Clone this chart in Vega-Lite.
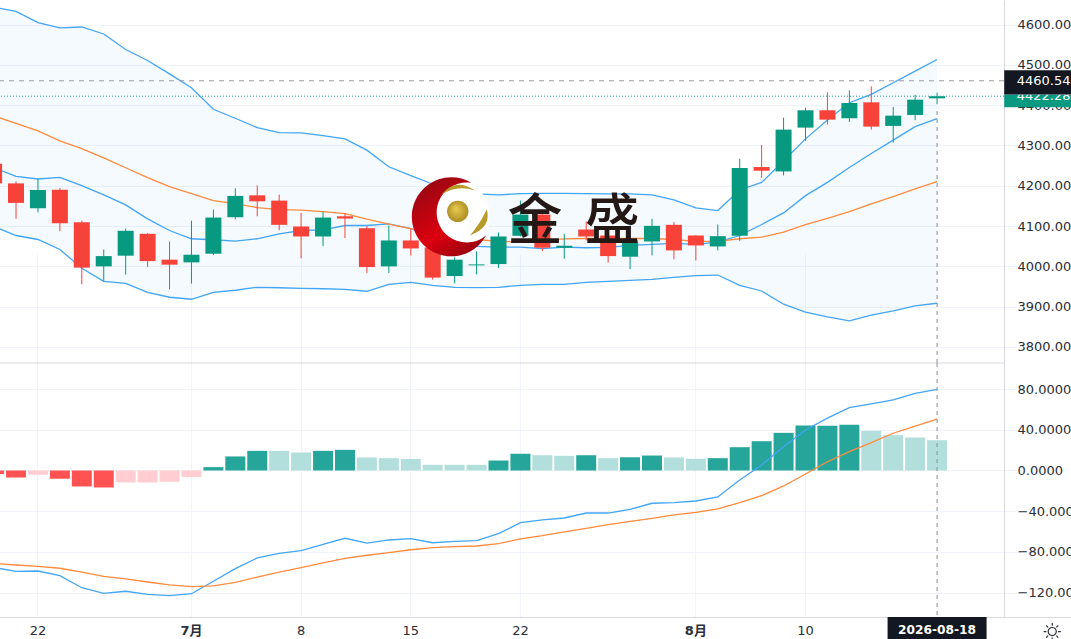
{
  "$schema": "https://vega.github.io/schema/vega-lite/v6.json",
  "description": "Candles with bands and MACD, trading days on x",
  "autosize": "none",
  "padding": {"left": 0, "top": 0, "right": 67, "bottom": 22},
  "width": 1004,
  "height": 617,
  "background": "white",
  "config": {"view": {"stroke": null}},
  "data": {"values": [
    {"date":"2026-06-18","open":4254.6,"close":4205.9,"high":4262,"low":4202.7,"upper":4642.7,"inner":4244.7,"mid":4373.3,"lower":4098.9,"hist":-3.6,"state":"down","dif":-95.3,"dea":-91.4},
    {"date":"2026-06-19","open":4205.9,"close":4157.5,"high":4210.9,"low":4117.9,"upper":4632.8,"inner":4223.2,"mid":4354.7,"lower":4076.6,"hist":-6.9,"state":"down","dif":-99.1,"dea":-92.9},
    {"date":"2026-06-22","open":4144.1,"close":4189.6,"high":4216.8,"low":4134.2,"upper":4604.9,"inner":4216.8,"mid":4336.2,"lower":4066.7,"hist":-4.3,"state":"downweak","dif":-98.8,"dea":-94.2},
    {"date":"2026-06-23","open":4190.3,"close":4107,"high":4194.5,"low":4087.3,"upper":4591.6,"inner":4220.7,"mid":4311.5,"lower":4042,"hist":-8.2,"state":"down","dif":-103.4,"dea":-96.1},
    {"date":"2026-06-24","open":4109.5,"close":3996.8,"high":4113.7,"low":3955.5,"upper":4594,"inner":4200.2,"mid":4292.4,"lower":3995.1,"hist":-15.7,"state":"down","dif":-115.2,"dea":-99.8},
    {"date":"2026-06-25","open":4000,"close":4025.5,"high":4042,"low":3963.7,"upper":4576.7,"inner":4177.2,"mid":4269.4,"lower":3962.9,"hist":-16.7,"state":"down","dif":-120.7,"dea":-104},
    {"date":"2026-06-26","open":4026.5,"close":4088.3,"high":4093.9,"low":3979.5,"upper":4538.2,"inner":4152.5,"mid":4244.7,"lower":3958,"hist":-11.8,"state":"downweak","dif":-118.7,"dea":-106.6},
    {"date":"2026-06-29","open":4080.8,"close":4013.1,"high":4082.3,"low":3998.3,"upper":4511,"inner":4117.9,"mid":4220,"lower":3935.7,"hist":-11.8,"state":"downweak","dif":-121.7,"dea":-109.6},
    {"date":"2026-06-30","open":4016.6,"close":4004.2,"high":4061.8,"low":3943.1,"upper":4477.8,"inner":4089,"mid":4197.8,"lower":3923.4,"hist":-11.1,"state":"downweak","dif":-123,"dea":-112.5},
    {"date":"2026-07-01","open":4009.9,"close":4028.9,"high":4113.7,"low":3957.2,"upper":4443.2,"inner":4068.5,"mid":4180.5,"lower":3918.4,"hist":-6.5,"state":"downweak","dif":-121.1,"dea":-114.2},
    {"date":"2026-07-02","open":4031.4,"close":4121.1,"high":4140.9,"low":4027.9,"upper":4389.8,"inner":4066,"mid":4163.2,"lower":3935.7,"hist":3.3,"state":"up","dif":-108.9,"dea":-113.5},
    {"date":"2026-07-03","open":4121.9,"close":4174.8,"high":4193.6,"low":4116.9,"upper":4367.6,"inner":4062.5,"mid":4155.7,"lower":3940.7,"hist":13.8,"state":"up","dif":-96.5,"dea":-109.9},
    {"date":"2026-07-06","open":4176.3,"close":4161.4,"high":4201,"low":4124.3,"upper":4344.3,"inner":4068.5,"mid":4145.8,"lower":3948.1,"hist":19.3,"state":"up","dif":-86,"dea":-104.7},
    {"date":"2026-07-07","open":4163.2,"close":4103.1,"high":4178,"low":4089.7,"upper":4332,"inner":4080.8,"mid":4140.9,"lower":3946.9,"hist":19.3,"state":"upweak","dif":-81.4,"dea":-100},
    {"date":"2026-07-08","open":4098.9,"close":4074.2,"high":4132.7,"low":4019.8,"upper":4331.2,"inner":4089,"mid":4139.7,"lower":3945.6,"hist":17.7,"state":"upweak","dif":-78.8,"dea":-95.5},
    {"date":"2026-07-09","open":4074.2,"close":4121.1,"high":4136,"low":4050.2,"upper":4324.6,"inner":4090.7,"mid":4136,"lower":3944.4,"hist":19.3,"state":"up","dif":-72.5,"dea":-90.9},
    {"date":"2026-07-10","open":4124.3,"close":4118.7,"high":4131.8,"low":4070,"upper":4316.4,"inner":4101.4,"mid":4131,"lower":3943.1,"hist":20.3,"state":"up","dif":-66.6,"dea":-86.3},
    {"date":"2026-07-13","open":4094.7,"close":3998.3,"high":4099.6,"low":3983.4,"upper":4288.5,"inner":4101.4,"mid":4117.4,"lower":3938.2,"hist":12.8,"state":"upweak","dif":-71.3,"dea":-83.3},
    {"date":"2026-07-14","open":4000,"close":4064.3,"high":4101.4,"low":3983.4,"upper":4247.2,"inner":4105.6,"mid":4105.1,"lower":3955.5,"hist":12.1,"state":"upweak","dif":-68.3,"dea":-80.8},
    {"date":"2026-07-15","open":4064.3,"close":4044.5,"high":4093.9,"low":4027.2,"upper":4225,"inner":4093.9,"mid":4093.9,"lower":3960.4,"hist":11.3,"state":"upweak","dif":-67,"dea":-77.9},
    {"date":"2026-07-16","open":4047,"close":3972.1,"high":4051.9,"low":3967.1,"upper":4204.4,"inner":4069.2,"mid":4084,"lower":3953,"hist":5.6,"state":"upweak","dif":-71,"dea":-75.9},
    {"date":"2026-07-17","open":3976,"close":4016.6,"high":4022.2,"low":3958,"upper":4189.6,"inner":4056.9,"mid":4074.2,"lower":3948.1,"hist":5.6,"state":"upweak","dif":-69.6,"dea":-74.9},
    {"date":"2026-07-20","open":4002.5,"close":4004.9,"high":4037.1,"low":3980.2,"upper":4179.7,"inner":4049.4,"mid":4066.7,"lower":3947.3,"hist":5.6,"state":"upweak","dif":-69,"dea":-74.2},
    {"date":"2026-07-21","open":4005.7,"close":4074.2,"high":4084,"low":3995.8,"upper":4177.2,"inner":4047.7,"mid":4061.8,"lower":3948.1,"hist":9.8,"state":"up","dif":-62.1,"dea":-71.9},
    {"date":"2026-07-22","open":4075.9,"close":4128.5,"high":4163.2,"low":4074.2,"upper":4180.5,"inner":4047.7,"mid":4060.6,"lower":3953,"hist":16.4,"state":"up","dif":-51.3,"dea":-67.3},
    {"date":"2026-07-23","open":4128.5,"close":4046.2,"high":4138.4,"low":4037.8,"upper":4181.2,"inner":4043.8,"mid":4064.3,"lower":3955.5,"hist":15,"state":"upweak","dif":-48.6,"dea":-64.1},
    {"date":"2026-07-24","open":4046.2,"close":4051.2,"high":4080.8,"low":4019,"upper":4181.2,"inner":4047.7,"mid":4068,"lower":3955.5,"hist":14.4,"state":"upweak","dif":-46.7,"dea":-60.4},
    {"date":"2026-07-27","open":4091.5,"close":4074.2,"high":4111.2,"low":4064.3,"upper":4180.5,"inner":4046.2,"mid":4069.2,"lower":3960.4,"hist":15,"state":"up","dif":-41.8,"dea":-56.8},
    {"date":"2026-07-28","open":4076.6,"close":4025.5,"high":4097.1,"low":4009.1,"upper":4179.7,"inner":4047,"mid":4069.2,"lower":3962.9,"hist":12.1,"state":"upweak","dif":-41.8,"dea":-53.3},
    {"date":"2026-07-29","open":4024,"close":4064.3,"high":4101.4,"low":3993.3,"upper":4179.7,"inner":4051.9,"mid":4069.2,"lower":3965.4,"hist":13,"state":"up","dif":-38.3,"dea":-50.1},
    {"date":"2026-07-30","open":4061.8,"close":4100.6,"high":4117.9,"low":4027.2,"upper":4177.2,"inner":4054.4,"mid":4069.2,"lower":3967.9,"hist":14.7,"state":"up","dif":-32.2,"dea":-47},
    {"date":"2026-07-31","open":4103.1,"close":4039.6,"high":4110.5,"low":4017.3,"upper":4164.9,"inner":4056.9,"mid":4066.7,"lower":3972.8,"hist":12.8,"state":"upweak","dif":-31.6,"dea":-43.7},
    {"date":"2026-08-03","open":4076.6,"close":4051.9,"high":4077.4,"low":4014.8,"upper":4145.1,"inner":4054.4,"mid":4061.8,"lower":3977,"hist":11.5,"state":"upweak","dif":-30,"dea":-41.1},
    {"date":"2026-08-04","open":4049.4,"close":4074.9,"high":4103.8,"low":4039.6,"upper":4138.4,"inner":4060.1,"mid":4061.8,"lower":3978.5,"hist":12.1,"state":"up","dif":-26,"dea":-37.8},
    {"date":"2026-08-05","open":4075.9,"close":4244,"high":4267,"low":4063.5,"upper":4189.6,"inner":4076.6,"mid":4068.5,"lower":3953,"hist":22.9,"state":"up","dif":-9.3,"dea":-31.6},
    {"date":"2026-08-06","open":4246.5,"close":4237.3,"high":4301.6,"low":4220,"upper":4208.4,"inner":4103.8,"mid":4072.4,"lower":3938.9,"hist":28.8,"state":"up","dif":5.4,"dea":-24.8},
    {"date":"2026-08-07","open":4235.6,"close":4339.4,"high":4369,"low":4225.7,"upper":4262,"inner":4132.7,"mid":4084.8,"lower":3906.1,"hist":37,"state":"up","dif":23.4,"dea":-15.2},
    {"date":"2026-08-10","open":4344.3,"close":4387.4,"high":4393.8,"low":4311.5,"upper":4316.4,"inner":4175.5,"mid":4103.8,"lower":3886.3,"hist":44.2,"state":"up","dif":39.8,"dea":-3.4},
    {"date":"2026-08-11","open":4387.4,"close":4364.1,"high":4431.9,"low":4351.8,"upper":4363.4,"inner":4208.4,"mid":4119.4,"lower":3874.7,"hist":43.9,"state":"up","dif":51.5,"dea":8.6},
    {"date":"2026-08-12","open":4367.6,"close":4405.4,"high":4436.8,"low":4358.4,"upper":4406.1,"inner":4245.5,"mid":4136,"lower":3864.8,"hist":44.9,"state":"up","dif":61.7,"dea":18.5},
    {"date":"2026-08-13","open":4407.1,"close":4346.8,"high":4446.7,"low":4339.4,"upper":4426.9,"inner":4280.1,"mid":4155,"lower":3878.9,"hist":39,"state":"upweak","dif":65.4,"dea":27.3},
    {"date":"2026-08-14","open":4348.6,"close":4374,"high":4395.5,"low":4307.3,"upper":4455.6,"inner":4313.2,"mid":4173,"lower":3889.5,"hist":34.7,"state":"upweak","dif":69.3,"dea":36.6},
    {"date":"2026-08-17","open":4375.7,"close":4413.6,"high":4425.9,"low":4362.6,"upper":4484.5,"inner":4346.8,"mid":4192.1,"lower":3901.9,"hist":32.4,"state":"upweak","dif":75.9,"dea":43.7},
    {"date":"2026-08-18","open":4417,"close":4422.28,"high":4430.9,"low":4402.2,"upper":4513.4,"inner":4366.6,"mid":4210.1,"lower":3908.5,"hist":29.8,"state":"upweak","dif":79.8,"dea":50.6}
  ]},
  "encoding": {
    "x": {
      "field": "date",
      "type": "ordinal",
      "title": null,
      "sort": null,
      "scale": {
        "type": "band",
        "paddingInner": 0,
        "paddingOuter": 0,
        "range": [-16.87, 1101.56],
        "domain": ["2026-06-18","2026-06-19","2026-06-22","2026-06-23","2026-06-24","2026-06-25","2026-06-26","2026-06-29","2026-06-30","2026-07-01","2026-07-02","2026-07-03","2026-07-06","2026-07-07","2026-07-08","2026-07-09","2026-07-10","2026-07-13","2026-07-14","2026-07-15","2026-07-16","2026-07-17","2026-07-20","2026-07-21","2026-07-22","2026-07-23","2026-07-24","2026-07-27","2026-07-28","2026-07-29","2026-07-30","2026-07-31","2026-08-03","2026-08-04","2026-08-05","2026-08-06","2026-08-07","2026-08-10","2026-08-11","2026-08-12","2026-08-13","2026-08-14","2026-08-17","2026-08-18","2026-08-19","2026-08-20","2026-08-21","2026-08-24","2026-08-25","2026-08-26","2026-08-27"]
      },
      "axis": {
        "values": ["2026-06-22","2026-07-01","2026-07-08","2026-07-15","2026-07-22","2026-08-03","2026-08-10"],
        "labelExpr": "{'2026-06-22':'22','2026-07-01':'7月','2026-07-08':'8','2026-07-15':'15','2026-07-22':'22','2026-08-03':'8月','2026-08-10':'10'}[datum.value]",
        "labelAngle": 0,
        "labelFont": "DejaVu Sans, Noto Sans CJK SC",
        "labelFontSize": 13,
        "labelColor": "#2a2e39",
        "labelPadding": 7,
        "labelFontWeight": {"condition": {"test": "datum.value == '2026-07-01' || datum.value == '2026-08-03'", "value": "bold"}, "value": "normal"},
        "ticks": false,
        "domainColor": "#d9dadd",
        "grid": true,
        "gridColor": "#f0f3fa"
      }
    }
  },
  "resolve": {"scale": {"y": "independent"}, "axis": {"y": "independent"}},
  "layer": [
    {
      "layer": [
        {
          "mark": {"type": "area", "color": "#2196f3", "opacity": 0.05},
          "encoding": {
            "y": {
              "field": "upper",
              "type": "quantitative",
              "title": null,
              "scale": {"domain": [3760.2, 4661], "range": [363, 0], "nice": false, "zero": false},
              "axis": {
                "orient": "right",
                "values": [3800, 3900, 4000, 4100, 4200, 4300, 4400, 4500, 4600],
                "format": ".2f",
                "labelFont": "DejaVu Sans",
                "labelFontSize": 13,
                "labelColor": "#2a2e39",
                "labelPadding": 13,
                "ticks": false,
                "domainColor": "#d9dadd",
                "grid": true,
                "gridColor": "#f0f3fa"
              }
            },
            "y2": {"field": "lower"}
          }
        },
        {"mark": {"type": "line", "color": "#42a5f5", "strokeWidth": 1.3}, "encoding": {"y": {"field": "upper", "type": "quantitative"}}},
        {"mark": {"type": "line", "color": "#42a5f5", "strokeWidth": 1.3}, "encoding": {"y": {"field": "inner", "type": "quantitative"}}},
        {"mark": {"type": "line", "color": "#42a5f5", "strokeWidth": 1.3}, "encoding": {"y": {"field": "lower", "type": "quantitative"}}},
        {"mark": {"type": "line", "color": "#ff8a3c", "strokeWidth": 1.3}, "encoding": {"y": {"field": "mid", "type": "quantitative"}}},
        {
          "mark": {"type": "rule", "strokeWidth": 1},
          "encoding": {
            "y": {"field": "low", "type": "quantitative"},
            "y2": {"field": "high"},
            "color": {"condition": {"test": "datum.close >= datum.open", "value": "#089981"}, "value": "#f7423a"}
          }
        },
        {
          "mark": {"type": "bar", "size": 16},
          "encoding": {
            "y": {"field": "open", "type": "quantitative"},
            "y2": {"field": "close"},
            "color": {"condition": {"test": "datum.close >= datum.open", "value": "#089981"}, "value": "#f7423a"}
          }
        },
        {
          "data": {"values": [{"price": 3760.2}]},
          "mark": {"type": "rule", "color": "#d9dadd", "strokeWidth": 1},
          "encoding": {"x": null, "y": {"field": "price", "type": "quantitative"}}
        },
        {
          "data": {"values": [{"price": 4460.54}]},
          "mark": {"type": "rule", "color": "#9a9ca4", "strokeWidth": 1, "strokeDash": [5, 5]},
          "encoding": {"x": null, "y": {"field": "price", "type": "quantitative"}}
        },
        {
          "data": {"values": [{"price": 4422.28}]},
          "mark": {"type": "rule", "color": "#26a69a", "strokeWidth": 1, "strokeDash": [1, 2]},
          "encoding": {"x": null, "y": {"field": "price", "type": "quantitative"}}
        },
        {
          "data": {"values": [{"date": "2026-08-25"}]},
          "mark": {"type": "bar", "size": 85, "color": "#089981"},
          "encoding": {"y": {"datum": 4426.2}, "y2": {"datum": 4394.8}}
        },
        {
          "data": {"values": [{"date": "2026-08-25", "price": 4422.28, "label": "4422.28"}]},
          "mark": {"type": "text", "color": "white", "font": "DejaVu Sans", "fontSize": 13, "align": "left", "dx": -30},
          "encoding": {"y": {"field": "price", "type": "quantitative"}, "text": {"field": "label"}}
        },
        {
          "data": {"values": [{"date": "2026-08-25"}]},
          "mark": {"type": "bar", "size": 85, "color": "#131722"},
          "encoding": {"y": {"datum": 4486.9}, "y2": {"datum": 4426.2}}
        },
        {
          "data": {"values": [{"date": "2026-08-25", "price": 4460.54, "label": "4460.54"}]},
          "mark": {"type": "text", "color": "white", "font": "DejaVu Sans", "fontSize": 13, "align": "left", "dx": -30},
          "encoding": {"y": {"field": "price", "type": "quantitative"}, "text": {"field": "label"}}
        },
        {
          "data": {"values": [{"date": "2026-07-15", "price": 4122.9}]},
          "mark": {"type": "point", "filled": true, "opacity": 1, "size": 6084, "xOffset": 40.5, "shape": "circle", "color": "white"},
          "encoding": {"y": {"field": "price", "type": "quantitative"}}
        },
        {
          "data": {"values": [{"date": "2026-07-15", "price": 4122.9}]},
          "mark": {
            "type": "point",
            "filled": true,
            "opacity": 1,
            "size": 6241,
            "xOffset": 40.5,
            "shape": "M0.509 -0.861 A1 1 0 1 0 0.885 0.467 A0.76 0.76 0 1 1 0.509 -0.861 Z",
            "fill": {"gradient": "linear", "x1": 0, "y1": 0, "x2": 0.6, "y2": 1, "stops": [{"offset": 0, "color": "#8a0a12"}, {"offset": 0.7, "color": "#dc000f"}, {"offset": 1, "color": "#a30010"}]}
          },
          "encoding": {"y": {"field": "price", "type": "quantitative"}}
        },
        {
          "data": {"values": [{"date": "2026-07-15", "price": 4122.9}]},
          "mark": {
            "type": "point",
            "filled": true,
            "opacity": 1,
            "size": 6241,
            "xOffset": 40.5,
            "shape": "M-0.24 -0.57 Q0.1 -1 0.6 -0.67 Q0.15 -0.82 -0.24 -0.57 Z M0.9 -0.19 Q1.02 0.28 0.47 0.47 Q0.72 0.2 0.9 -0.19 Z",
            "color": "#b89a2a"
          },
          "encoding": {"y": {"field": "price", "type": "quantitative"}}
        },
        {
          "data": {"values": [{"date": "2026-07-15", "price": 4136.5}]},
          "mark": {
            "type": "point",
            "filled": true,
            "opacity": 1,
            "size": 458,
            "shape": "circle",
            "xOffset": 47,
            "fill": {"gradient": "radial", "x1": 0.4, "y1": 0.35, "r1": 0, "x2": 0.5, "y2": 0.5, "r2": 0.55, "stops": [{"offset": 0, "color": "#e8cd55"}, {"offset": 1, "color": "#a98a1e"}]}
          },
          "encoding": {"y": {"field": "price", "type": "quantitative"}}
        },
        {
          "data": {"values": [{"date": "2026-07-23", "price": 4111, "label": "金"}]},
          "mark": {"type": "text", "font": "Noto Sans CJK SC", "fontSize": 55, "fontWeight": 500, "color": "#231815", "dx": -7.4},
          "encoding": {"y": {"field": "price", "type": "quantitative"}, "text": {"field": "label"}}
        },
        {
          "data": {"values": [{"date": "2026-07-28", "price": 4111, "label": "盛"}]},
          "mark": {"type": "text", "font": "Noto Sans CJK SC", "fontSize": 55, "fontWeight": 500, "color": "#231815", "dx": 4},
          "encoding": {"y": {"field": "price", "type": "quantitative"}, "text": {"field": "label"}}
        }
      ]
    },
    {
      "layer": [
        {
          "mark": {"type": "bar", "size": 20},
          "encoding": {
            "y": {
              "field": "hist",
              "type": "quantitative",
              "stack": false,
              "title": null,
              "scale": {"domain": [-144, 105.65], "range": [617, 363], "nice": false, "zero": false},
              "axis": {
                "orient": "right",
                "values": [80, 40, 0, -40, -80, -120],
                "format": ".4f",
                "labelFont": "DejaVu Sans",
                "labelFontSize": 13,
                "labelColor": "#2a2e39",
                "labelPadding": 13,
                "ticks": false,
                "domainColor": "#d9dadd",
                "grid": true,
                "gridColor": "#f0f3fa"
              }
            },
            "color": {
              "field": "state",
              "type": "nominal",
              "legend": null,
              "scale": {"domain": ["up", "upweak", "down", "downweak"], "range": ["#26a69a", "#b2dfdb", "#ff5252", "#ffcdd2"]}
            }
          }
        },
        {"mark": {"type": "line", "color": "#42a5f5", "strokeWidth": 1.3}, "encoding": {"y": {"field": "dif", "type": "quantitative"}}},
        {"mark": {"type": "line", "color": "#ff8a3c", "strokeWidth": 1.3}, "encoding": {"y": {"field": "dea", "type": "quantitative"}}},
        {
          "data": {"values": [{"date": "2026-08-18"}]},
          "mark": {"type": "bar", "size": 99, "color": "#131722"},
          "encoding": {"y": {"datum": -144}, "y2": {"datum": -170}}
        },
        {
          "data": {"values": [{"date": "2026-08-18", "pos": -157, "label": "2026-08-18"}]},
          "mark": {"type": "text", "color": "white", "font": "DejaVu Sans", "fontSize": 12.2, "fontWeight": "bold"},
          "encoding": {"y": {"field": "pos", "type": "quantitative"}, "text": {"field": "label"}}
        },
        {
          "data": {"values": [{"date": "2026-08-25", "pos": -158.3}]},
          "mark": {
            "type": "point",
            "filled": false,
            "opacity": 1,
            "size": 324,
            "xOffset": 5.5,
            "strokeWidth": 1.2,
            "color": "#2a2e39",
            "shape": "M0.45 0 A0.45 0.45 0 1 1 -0.45 0 A0.45 0.45 0 1 1 0.45 0 Z M0 -0.65 L0 -0.95 M0 0.65 L0 0.95 M0.65 0 L0.95 0 M-0.65 0 L-0.95 0 M0.46 0.46 L0.67 0.67 M-0.46 0.46 L-0.67 0.67 M0.46 -0.46 L0.67 -0.67 M-0.46 -0.46 L-0.67 -0.67"
          },
          "encoding": {"y": {"field": "pos", "type": "quantitative"}}
        },
        {
          "data": {"values": [{"date": "2026-08-18", "pos": 105.65}]},
          "mark": {"type": "rule", "color": "#8a8d96", "strokeWidth": 1, "strokeDash": [4, 4]},
          "encoding": {"y": {"field": "pos", "type": "quantitative"}, "y2": {"datum": -144}}
        },
        {
          "data": {"values": [{"date": "2026-08-18", "pos": 105.65}]},
          "mark": {"type": "rule", "color": "#8a8d96", "strokeWidth": 1, "strokeDash": [4, 4]},
          "encoding": {"y": {"field": "pos", "type": "quantitative"}, "y2": {"datum": 354}}
        }
      ]
    }
  ]
}
